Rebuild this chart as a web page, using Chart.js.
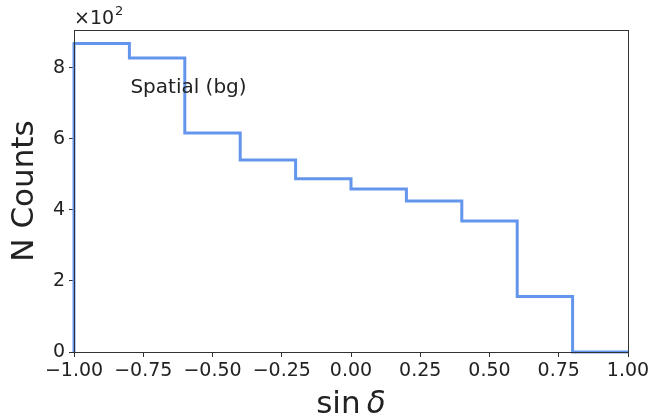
<!DOCTYPE html>
<html>
<head>
<meta charset="utf-8">
<script src="https://cdn.jsdelivr.net/npm/chart.js@4/dist/chart.umd.min.js"></script>
<style>
  html, body { margin: 0; padding: 0; background: #fff; }
  #wrap { width: 653px; height: 419px; }
</style>
</head>
<body>
<div id="wrap"><canvas id="hist"></canvas></div>
<script>
// histogram of sin(dec), 10 bins, counts in units of 10^2
const binEdges = [-1.0, -0.8, -0.6, -0.4, -0.2, 0.0, 0.2, 0.4, 0.6, 0.8, 1.0];
const counts = [8.69, 8.28, 6.17, 5.41, 4.88, 4.59, 4.25, 3.69, 1.56, 0.0];
const xTicks = [-1.0, -0.75, -0.5, -0.25, 0.0, 0.25, 0.5, 0.75, 1.0];
const yTicks = [0, 2, 4, 6, 8];

const FONT = "'DejaVu Sans', sans-serif";

// step outline: start at baseline, one point per bin, close at right edge
const stepPoints = [{ x: binEdges[0], y: 0 }];
counts.forEach((c, i) => stepPoints.push({ x: binEdges[i], y: c }));
stepPoints.push({ x: binEdges[binEdges.length - 1], y: counts[counts.length - 1] });

const frame = {
  id: "frame",
  afterDraw(chart) {
    const { ctx, chartArea: a, scales } = chart;
    ctx.save();
    ctx.strokeStyle = "#333";
    ctx.lineWidth = 1;
    ctx.strokeRect(a.left + 0.5, a.top + 0.5, a.right - a.left, a.bottom - a.top);

    ctx.fillStyle = "#222";
    ctx.font = "20px " + FONT;
    ctx.textBaseline = "middle";
    ctx.textAlign = "left";
    ctx.fillText("Spatial (bg)", scales.x.getPixelForValue(-0.8) + 1, scales.y.getPixelForValue(7.44));

    // offset text like matplotlib
    ctx.textBaseline = "alphabetic";
    ctx.font = "19px " + FONT;
    ctx.fillText("×10", a.left, a.top - 6);
    const w = ctx.measureText("×10").width;
    ctx.font = "13px " + FONT;
    ctx.fillText("2", a.left + w + 1, a.top - 15);

    // x label: sin + italic delta
    const cx = (a.left + a.right) / 2;
    ctx.font = "31px " + FONT;
    const s1 = "sin\u2009";
    const w1 = ctx.measureText(s1).width;
    ctx.font = "italic 31px " + FONT;
    const w2 = ctx.measureText("\u03b4").width;
    const x0 = cx - (w1 + w2) / 2;
    ctx.font = "31px " + FONT;
    ctx.fillText(s1, x0, 413);
    ctx.font = "italic 31px " + FONT;
    ctx.fillText("\u03b4", x0 + w1, 413);
    ctx.restore();
  }
};

new Chart(document.getElementById("hist"), {
  type: "line",
  data: {
    datasets: [{
      label: "Spatial (bg)",
      data: stepPoints,
      stepped: "before",
      borderColor: "#6495ed",
      borderWidth: 3,
      pointRadius: 0,
      clip: 6,
      fill: false
    }]
  },
  options: {
    responsive: true,
    maintainAspectRatio: false,
    animation: false,
    layout: { padding: { top: 30, right: 25, left: 0, bottom: 0 } },
    plugins: { legend: { display: false }, tooltip: { enabled: false } },
    scales: {
      x: {
        type: "linear",
        min: -1,
        max: 1,
        afterFit: (s) => { s.height = 67; },
        afterBuildTicks: (s) => { s.ticks = xTicks.map((v) => ({ value: v })); },
        grid: { drawOnChartArea: false, tickLength: 5, tickColor: "#333" },
        border: { color: "#333" },
        ticks: {
          color: "#222",
          font: { family: FONT, size: 19 },
          padding: 3,
          maxRotation: 0,
          autoSkip: false,
          callback: (v) => v.toFixed(2).replace("-", "\u2212")
        }
      },
      y: {
        min: 0,
        max: 9.07,
        afterFit: (s) => { s.width = 74; },
        afterBuildTicks: (s) => { s.ticks = yTicks.map((v) => ({ value: v })); },
        grid: { drawOnChartArea: false, tickLength: 5, tickColor: "#333" },
        border: { color: "#333" },
        ticks: {
          color: "#222",
          font: { family: FONT, size: 19 },
          padding: 4
        },
        title: {
          display: true,
          text: "N Counts",
          color: "#222",
          font: { family: FONT, size: 31 },
          padding: { top: 6, bottom: 0 }
        }
      }
    }
  },
  plugins: [frame]
});
</script>
</body>
</html>
